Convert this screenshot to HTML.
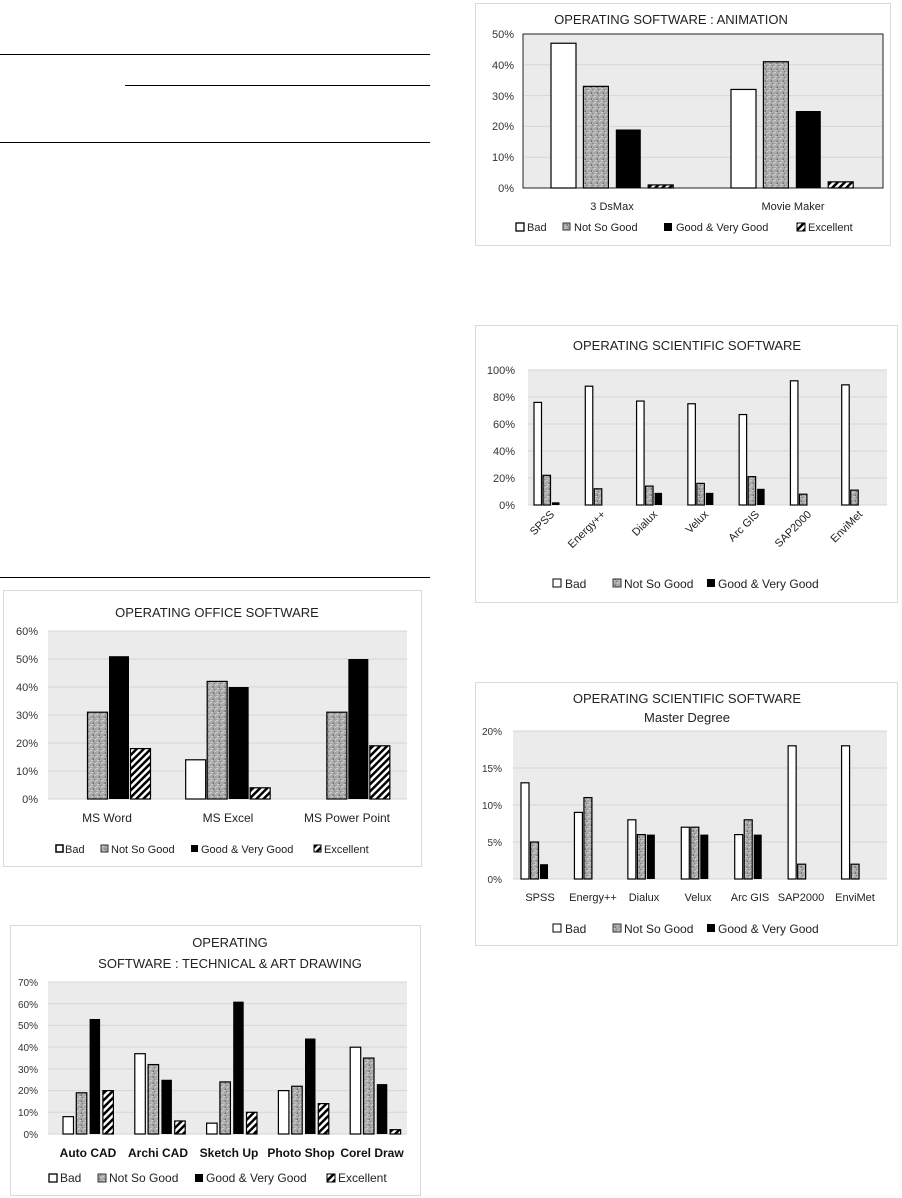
<!DOCTYPE html>
<html><head><meta charset="utf-8"><style>
html,body{margin:0;padding:0;background:#fff;}
svg{display:block;font-family:"Liberation Sans",sans-serif;}
</style></head><body>
<svg id="s" width="902" height="1198" viewBox="0 0 902 1198" xmlns="http://www.w3.org/2000/svg">
<defs>
<pattern id="spk" width="6" height="6" patternUnits="userSpaceOnUse">
<rect width="6" height="6" fill="#a9a9a9"/>
<rect x="0" y="0" width="2" height="1" fill="#d0d0d0"/><rect x="3" y="2" width="1" height="2" fill="#7a7a7a"/>
<rect x="1" y="4" width="2" height="1" fill="#cfcfcf"/><rect x="4" y="5" width="1" height="1" fill="#808080"/>
<rect x="5" y="1" width="1" height="1" fill="#d5d5d5"/><rect x="2" y="3" width="1" height="1" fill="#888"/>
</pattern>
<pattern id="hat" width="5" height="5" patternUnits="userSpaceOnUse" patternTransform="rotate(45)">
<rect width="5" height="5" fill="#fff"/><rect width="2.5" height="5" fill="#000"/>
</pattern>
</defs>
<!-- table lines -->
<line x1="0" y1="54.5" x2="430" y2="54.5" stroke="#000"/>
<line x1="125" y1="85.5" x2="430" y2="85.5" stroke="#000"/>
<line x1="0" y1="142.5" x2="430" y2="142.5" stroke="#000"/>
<line x1="0" y1="577.5" x2="430" y2="577.5" stroke="#000"/>

<!-- boxes -->
<rect x="3.5" y="590.5" width="418" height="276" fill="#fff" stroke="#d9d9d9"/>
<rect x="475.5" y="3.5" width="415" height="242" fill="#fff" stroke="#d9d9d9"/>
<rect x="475.5" y="325.5" width="422" height="277" fill="#fff" stroke="#d9d9d9"/>
<rect x="475.5" y="682.5" width="422" height="263" fill="#fff" stroke="#d9d9d9"/>
<rect x="10.5" y="925.5" width="410" height="270" fill="#fff" stroke="#d9d9d9"/>

<g id="plots"></g>

<!-- Office texts -->
<g font-size="13" fill="#222">
<text x="217" y="617" text-anchor="middle">OPERATING OFFICE SOFTWARE</text>
</g>
<g font-size="11" fill="#333" text-anchor="end">
<text x="38" y="803">0%</text><text x="38" y="775">10%</text><text x="38" y="747">20%</text>
<text x="38" y="719">30%</text><text x="38" y="691">40%</text><text x="38" y="663">50%</text><text x="38" y="635">60%</text>
</g>
<g font-size="12" fill="#222" text-anchor="middle">
<text x="107" y="822">MS Word</text><text x="228" y="822">MS Excel</text><text x="347" y="822">MS Power Point</text>
</g>
<g font-size="11" fill="#222">
<rect x="56" y="845" width="7" height="7" fill="#fff" stroke="#000" stroke-width="1.5"/><text x="65" y="853">Bad</text>
<rect x="101" y="845" width="7" height="7" fill="url(#spk)" stroke="#333"/><text x="111" y="853">Not So Good</text>
<rect x="191" y="845" width="7" height="7" fill="#000"/><text x="201" y="853">Good &amp; Very Good</text>
<rect x="314" y="845" width="7" height="7" fill="url(#hat)" stroke="#000"/><text x="324" y="853">Excellent</text>
</g>

<!-- Animation texts -->
<text x="671" y="24" font-size="13" fill="#222" text-anchor="middle">OPERATING SOFTWARE : ANIMATION</text>
<g font-size="11" fill="#333" text-anchor="end">
<text x="514" y="192">0%</text><text x="514" y="161">10%</text><text x="514" y="130">20%</text>
<text x="514" y="100">30%</text><text x="514" y="69">40%</text><text x="514" y="38">50%</text>
</g>
<g font-size="11" fill="#222" text-anchor="middle">
<text x="612" y="210">3 DsMax</text><text x="793" y="210">Movie Maker</text>
</g>
<g font-size="11" fill="#222">
<rect x="516" y="223" width="8" height="8" fill="#fff" stroke="#000" stroke-width="1.3"/><text x="527" y="231">Bad</text>
<rect x="563" y="223" width="7" height="7" fill="url(#spk)" stroke="#333"/><text x="574" y="231">Not So Good</text>
<rect x="664" y="223" width="8" height="8" fill="#000"/><text x="676" y="231">Good &amp; Very Good</text>
<rect x="797" y="223" width="8" height="8" fill="url(#hat)" stroke="#000"/><text x="808" y="231">Excellent</text>
</g>

<!-- Scientific texts -->
<text x="687" y="350" font-size="13" fill="#222" text-anchor="middle">OPERATING SCIENTIFIC SOFTWARE</text>
<g font-size="11" fill="#333" text-anchor="end">
<text x="515" y="509">0%</text><text x="515" y="482">20%</text><text x="515" y="455">40%</text>
<text x="515" y="428">60%</text><text x="515" y="401">80%</text><text x="515" y="374">100%</text>
</g>
<g font-size="11" fill="#222" text-anchor="end">
<text transform="translate(555,515) rotate(-45)">SPSS</text>
<text transform="translate(606,515) rotate(-45)">Energy++</text>
<text transform="translate(658,515) rotate(-45)">Dialux</text>
<text transform="translate(709,515) rotate(-45)">Velux</text>
<text transform="translate(760,515) rotate(-45)">Arc GIS</text>
<text transform="translate(812,515) rotate(-45)">SAP2000</text>
<text transform="translate(863,515) rotate(-45)">EnviMet</text>
</g>
<g font-size="12" fill="#222">
<rect x="553" y="579" width="8" height="8" fill="#fff" stroke="#000"/><text x="565" y="588">Bad</text>
<rect x="613" y="579" width="8" height="8" fill="url(#spk)" stroke="#333"/><text x="624" y="588">Not So Good</text>
<rect x="707" y="579" width="8" height="8" fill="#000"/><text x="718" y="588">Good &amp; Very Good</text>
</g>

<!-- Master texts -->
<text x="687" y="703" font-size="13" fill="#222" text-anchor="middle">OPERATING SCIENTIFIC SOFTWARE</text>
<text x="687" y="722" font-size="13" fill="#222" text-anchor="middle">Master Degree</text>
<g font-size="10" fill="#333" text-anchor="end">
<text x="502" y="883">0%</text><text x="502" y="846">5%</text><text x="502" y="809">10%</text>
<text x="502" y="772">15%</text><text x="502" y="735">20%</text>
</g>
<g font-size="11" fill="#222" text-anchor="middle">
<text x="540" y="901">SPSS</text><text x="593" y="901">Energy++</text><text x="644" y="901">Dialux</text>
<text x="698" y="901">Velux</text><text x="750" y="901">Arc GIS</text><text x="801" y="901">SAP2000</text><text x="855" y="901">EnviMet</text>
</g>
<g font-size="12" fill="#222">
<rect x="553" y="924" width="8" height="8" fill="#fff" stroke="#000"/><text x="565" y="933">Bad</text>
<rect x="613" y="924" width="8" height="8" fill="url(#spk)" stroke="#333"/><text x="624" y="933">Not So Good</text>
<rect x="707" y="924" width="8" height="8" fill="#000"/><text x="718" y="933">Good &amp; Very Good</text>
</g>

<!-- Technical texts -->
<text x="230" y="947" font-size="13" fill="#222" text-anchor="middle">OPERATING</text>
<text x="230" y="968" font-size="13" fill="#222" text-anchor="middle">SOFTWARE : TECHNICAL &amp; ART DRAWING</text>
<g font-size="10" fill="#333" text-anchor="end">
<text x="38" y="1138">0%</text><text x="38" y="1116">10%</text><text x="38" y="1094">20%</text><text x="38" y="1073">30%</text>
<text x="38" y="1051">40%</text><text x="38" y="1029">50%</text><text x="38" y="1008">60%</text><text x="38" y="986">70%</text>
</g>
<g font-size="12" fill="#111" font-weight="bold" text-anchor="middle">
<text x="88" y="1157">Auto CAD</text><text x="158" y="1157">Archi CAD</text><text x="229" y="1157">Sketch Up</text>
<text x="301" y="1157">Photo Shop</text><text x="372" y="1157">Corel Draw</text>
</g>
<g font-size="12" fill="#222">
<rect x="49" y="1174" width="8" height="8" fill="#fff" stroke="#000" stroke-width="1.3"/><text x="60" y="1182">Bad</text>
<rect x="98" y="1174" width="8" height="8" fill="url(#spk)" stroke="#333"/><text x="109" y="1182">Not So Good</text>
<rect x="195" y="1174" width="8" height="8" fill="#000"/><text x="206" y="1182">Good &amp; Very Good</text>
<rect x="327" y="1174" width="8" height="8" fill="url(#hat)" stroke="#000"/><text x="338" y="1182">Excellent</text>
</g>
</svg>
<script>
(function(){
var NS="http://www.w3.org/2000/svg",g=document.getElementById("plots");
function el(t,a){var e=document.createElementNS(NS,t);for(var k in a)e.setAttribute(k,a[k]);g.appendChild(e);return e;}
var fills=["#fff","url(#spk)","#000","url(#hat)"];
function chart(c){
  el("rect",{x:c.x0,y:c.yTop,width:c.x1-c.x0,height:c.y0-c.yTop,fill:"#ebebeb"});
  for(var i=0;i<=c.n;i++){var y=c.y0-(c.y0-c.yTop)*i/c.n;el("line",{x1:c.x0,x2:c.x1,y1:y,y2:y,stroke:"#d6d6d6","stroke-width":1});}
  if(c.border)el("rect",{x:c.x0,y:c.yTop,width:c.x1-c.x0,height:c.y0-c.yTop,fill:"none",stroke:"#222","stroke-width":1});
  var cw=(c.x1-c.x0)/c.data.length;
  c.data.forEach(function(vals,gi){
    vals.forEach(function(v,si){
      if(v<=0)return;
      var x=c.x0+gi*cw+c.off+si*c.pitch,h=v*c.ppu;
      el("rect",{x:x,y:c.y0-h,width:c.bw,height:h,fill:fills[si],stroke:"#000","stroke-width":si==2?0:1.2});
    });
  });
}
chart({x0:48,x1:407,y0:799,yTop:631,n:6,ppu:2.8,off:18,pitch:21.5,bw:20,data:[[0,31,51,18],[14,42,40,4],[0,31,50,19]]});
chart({x0:523,x1:883,y0:188,yTop:34,n:5,ppu:3.08,off:28,pitch:32.4,bw:25,border:true,data:[[47,33,19,1],[32,41,25,2]]});
chart({x0:528,x1:887,y0:505,yTop:370,n:5,ppu:1.35,off:6,pitch:9,bw:7.5,data:[[76,22,2],[88,12,0],[77,14,9],[75,16,9],[67,21,12],[92,8,0],[89,11,0]]});
chart({x0:513,x1:887,y0:879,yTop:731,n:4,ppu:7.4,off:8,pitch:9.5,bw:8,data:[[13,5,2],[9,11,0],[8,6,6],[7,7,6],[6,8,6],[18,2,0],[18,2,0]]});
chart({x0:48,x1:407,y0:1134,yTop:982,n:7,ppu:2.17,off:15,pitch:13.3,bw:10.5,data:[[8,19,53,20],[37,32,25,6],[5,24,61,10],[20,22,44,14],[40,35,23,2]]});
})();
</script>
</body></html>
